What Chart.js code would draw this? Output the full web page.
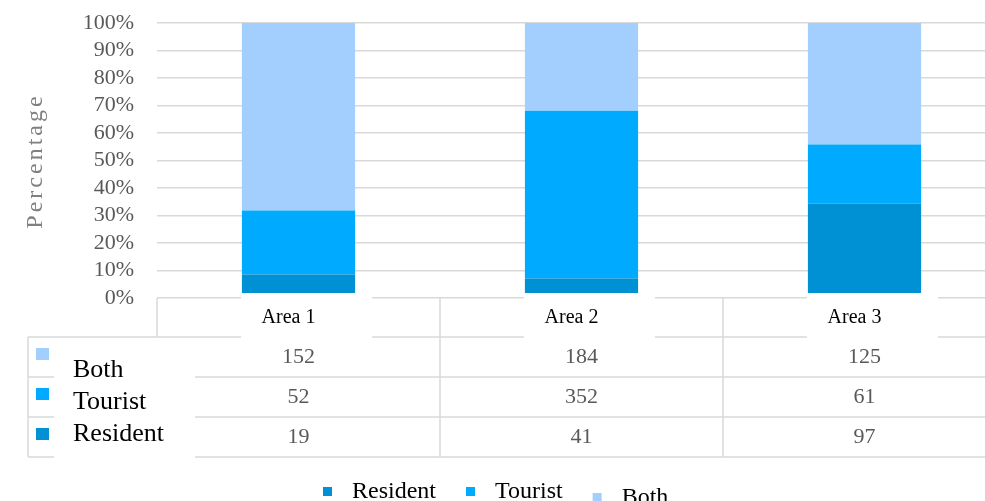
<!DOCTYPE html>
<html>
<head>
<meta charset="utf-8">
<script src="https://cdn.jsdelivr.net/npm/chart.js@4.4.1/dist/chart.umd.min.js"></script>
<style>
  html, body { margin: 0; padding: 0; background: #ffffff; overflow: hidden; }
  #wrap { width: 1010px; height: 501px; }
</style>
</head>
<body>
<div id="wrap"><canvas id="chart" width="1010" height="501"></canvas></div>
<script>
// Visitor counts per area
const categories = ['Area 1', 'Area 2', 'Area 3'];
const residentCounts = [19, 41, 97];
const touristCounts = [52, 352, 61];
const bothCounts = [152, 184, 125];
const yTickLabels = ['0%', '10%', '20%', '30%', '40%', '50%', '60%', '70%', '80%', '90%', '100%'];

const COLORS = { resident: '#0090d4', tourist: '#00aaff', both: '#a3cffe' };
const SERIF = "'Liberation Serif', 'Times New Roman', serif";
const LINE = '#d9d9d9';

// share of each group within its area, in percent
const totals = categories.map((_, i) => residentCounts[i] + touristCounts[i] + bothCounts[i]);
const pct = arr => arr.map((v, i) => v / totals[i] * 100);

// data table drawn under the plot, plus the bottom legend
const tablePlugin = {
  id: 'dataTable',
  afterDraw(chart) {
    const ctx = chart.ctx;
    const x = chart.scales.x;
    const area = chart.chartArea;
    const step = x.getPixelForValue(1) - x.getPixelForValue(0);
    const left = area.left, right = area.right;
    const headTop = area.bottom, headBottom = 337;
    const rowH = 40;
    const rows = [
      { ds: 2, counts: bothCounts },
      { ds: 1, counts: touristCounts },
      { ds: 0, counts: residentCounts }
    ];
    const tableLeft = 28;
    const tableBottom = headBottom + rowH * rows.length;

    ctx.save();
    ctx.strokeStyle = LINE;
    ctx.lineWidth = 1.5;
    ctx.beginPath();
    // horizontal rules
    for (let r = 0; r <= rows.length; r++) {
      const y = headBottom + r * rowH;
      ctx.moveTo(tableLeft, y); ctx.lineTo(right, y);
    }
    // vertical rules
    ctx.moveTo(left, headTop); ctx.lineTo(left, headBottom);
    for (let i = 1; i < categories.length; i++) {
      const vx = left + step * i;
      ctx.moveTo(vx, headTop); ctx.lineTo(vx, tableBottom);
    }
    ctx.moveTo(tableLeft, headBottom); ctx.lineTo(tableLeft, tableBottom);
    ctx.stroke();

    // header cells
    ctx.textAlign = 'center';
    ctx.textBaseline = 'middle';
    categories.forEach((c, i) => {
      const cx = x.getPixelForValue(i);
      ctx.fillStyle = '#ffffff';
      ctx.fillRect(cx + 8 - 65.5, 293, 131, headBottom + 1 - 293);
      ctx.fillStyle = '#000000';
      ctx.font = '20px ' + SERIF;
      ctx.fillText(c, cx - 10, 318);
    });

    // value cells
    ctx.fillStyle = '#595959';
    ctx.font = '22px ' + SERIF;
    rows.forEach((row, r) => {
      const cy = headBottom + r * rowH + rowH / 2;
      row.counts.forEach((v, i) => {
        ctx.fillText(String(v), x.getPixelForValue(i), cy);
      });
    });

    // row keys
    rows.forEach((row, r) => {
      ctx.fillStyle = chart.data.datasets[row.ds].backgroundColor;
      ctx.fillRect(36, headBottom + r * rowH + 11, 13, 12);
    });
    ctx.fillStyle = '#ffffff';
    ctx.fillRect(54, 357, 141, tableBottom + 1 - 357);
    ctx.fillStyle = '#000000';
    ctx.textAlign = 'left';
    ctx.textBaseline = 'alphabetic';
    ctx.font = '26px ' + SERIF;
    rows.forEach((row, r) => {
      ctx.fillText(chart.data.datasets[row.ds].label, 73, 377 + r * 32);
    });

    // bottom legend
    ctx.font = '24px ' + SERIF;
    let lx = 323;
    chart.data.datasets.forEach((ds, i) => {
      const dy = i === 2 ? 6 : 0;
      ctx.fillStyle = ds.backgroundColor;
      ctx.fillRect(lx, 487 + dy, 9, 9);
      ctx.fillStyle = '#000000';
      ctx.fillText(ds.label, lx + 29, 498 + dy);
      lx = lx + 29 + ctx.measureText(ds.label).width + 30;
    });

    // y axis title
    ctx.save();
    ctx.translate(42, 161);
    ctx.rotate(-Math.PI / 2);
    ctx.fillStyle = '#808080';
    ctx.font = '24px ' + SERIF;
    ctx.letterSpacing = '3px';
    ctx.textAlign = 'center';
    ctx.textBaseline = 'alphabetic';
    ctx.fillText('Percentage', 0, 0);
    ctx.restore();

    ctx.restore();
  }
};

new Chart(document.getElementById('chart'), {
  type: 'bar',
  data: {
    labels: categories,
    datasets: [
      { label: 'Resident', data: pct(residentCounts), backgroundColor: COLORS.resident },
      { label: 'Tourist', data: pct(touristCounts), backgroundColor: COLORS.tourist },
      { label: 'Both', data: pct(bothCounts), backgroundColor: COLORS.both }
    ]
  },
  options: {
    responsive: false,
    animation: false,
    devicePixelRatio: 1,
    layout: { padding: { top: 23, bottom: 203, left: 0, right: 4 } },
    datasets: { bar: { barPercentage: 1, categoryPercentage: 0.4, borderWidth: 0 } },
    plugins: { legend: { display: false }, tooltip: { enabled: false } },
    scales: {
      x: { stacked: true, display: false },
      y: {
        stacked: true,
        min: 0,
        max: 100,
        border: { display: false },
        grid: { color: LINE, lineWidth: 1.5, drawTicks: true, tickLength: 20, tickColor: 'rgba(0,0,0,0)' },
        afterFit(scale) { scale.width = 157; },
        ticks: {
          stepSize: 10,
          autoSkip: false,
          padding: 3,
          color: '#595959',
          font: { family: SERIF, size: 22 },
          callback: (v) => yTickLabels[Math.round(v / 10)]
        }
      }
    }
  },
  plugins: [tablePlugin]
});
</script>
</body>
</html>
